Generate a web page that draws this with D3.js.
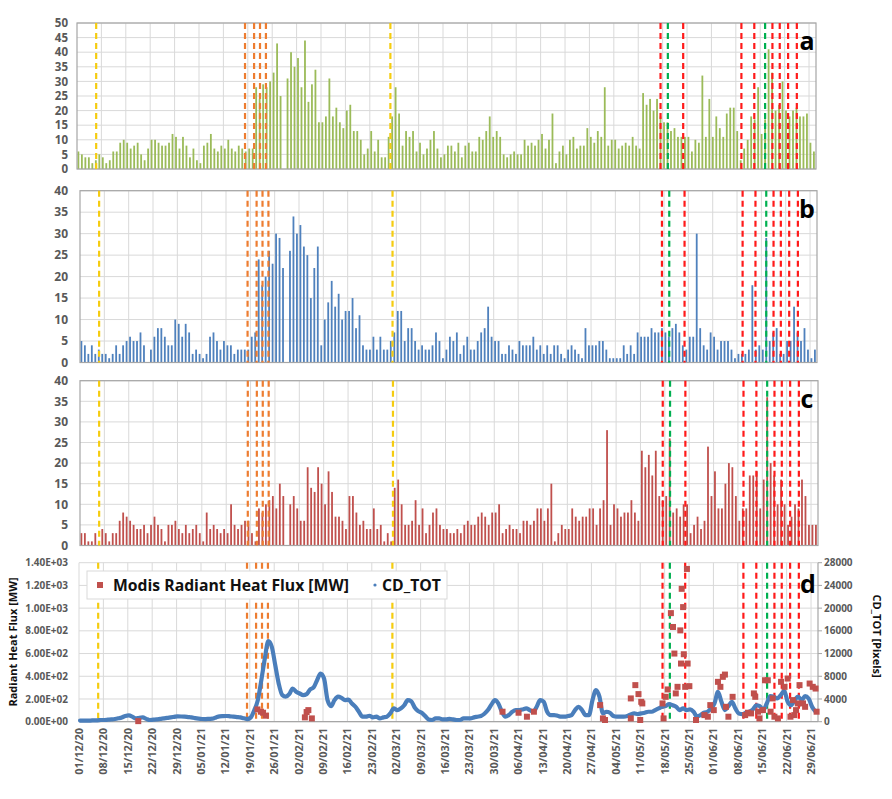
<!DOCTYPE html>
<html><head><meta charset="utf-8">
<script src="https://cdn.jsdelivr.net/npm/d3@7"></script>
<style>
body{margin:0;background:#fff}
svg{display:block}
text{font-family:"Open Sans",sans-serif}
</style>
</head><body>
<svg id="chart" width="892" height="799"></svg>
<script>
// ---------------- DATA ----------------
const startDate = "2020-12-01";
const endDate = "2021-07-01";

const weekLabels = ["01/12/20","08/12/20","15/12/20","22/12/20","29/12/20","05/01/21","12/01/21","19/01/21",
  "26/01/21","02/02/21","09/02/21","16/02/21","23/02/21","02/03/21","09/03/21","16/03/21","23/03/21",
  "30/03/21","06/04/21","13/04/21","20/04/21","27/04/21","04/05/21","11/05/21","18/05/21","25/05/21",
  "01/06/21","08/06/21","15/06/21","22/06/21","29/06/21"];

// panel a (daily, from 01/12/20)
const valuesA = [6,5,4,4,2,3,5,4,2,3, 6,6,9,10,9,7,8,9,5,3, 7,10,10,9,8,8,9,12,11,7,
  11,8,4,7,3,2,8,9,12,7, 6,8,7,10,7,6,8,7,6,7, 7,28,24,29,28,30,33,43,25,0,
  31,40,35,38,28,44,23,29,34,16, 16,18,31,18,21,16,14,20,22,13, 13,10,5,7,13,6,10,4,4,11,
  18,28,19,8,13,11,13,6,9,5, 7,10,13,7,4,5,8,
  8,6,9,4,8,9,6,6,11,10, 13,18,11,13,11,5,4,5,6,5, 5,10,8,9,8,10,12,7,10,19,
  2,6,8,5,10,11,7,8,8,14, 11,9,13,11,28,8,10,10,7,8, 9,8,11,8,7,26,22,24,20,24,
  18,16,16,13,14,11,11,11,11,6, 10,9,32,11,24,11,18,14,11,19, 21,21,13,3,7,10,18,17,28,12,
  17,41,33,20,22,30,20,18,20,21, 18,18,19,9,6];

// panel b
const valuesB = [5,4,2,4,2,3,2,2,1,2, 4,2,4,5,6,5,5,7,4,0, 3,6,8,8,6,4,4,10,9,6,
  9,7,2,3,2,1,2,6,7,5, 3,5,4,4,2,3,3,3,3,6, 7,24,18,20,26,23,30,29,22,0,
  26,34,30,32,27,25,15,22,27,4, 10,14,19,13,16,10,12,12,15,8, 11,4,3,3,6,3,6,3,3,5,
  7,12,12,5,8,8,5,3,4,3, 3,4,7,5,1,3,6,
  5,7,2,4,6,3,3,5,7,8, 13,6,5,5,2,2,4,3,2,5, 4,4,4,6,3,4,2,4,2,4,
  4,2,1,3,4,3,2,1,8,4, 4,4,5,5,3,1,1,1,1,4, 2,4,2,7,6,6,6,8,7,7,
  8,7,6,8,9,7,4,3,6,6, 30,8,4,3,7,6,3,5,5,5, 3,1,2,2,2,3,18,3,4,3,
  29,5,7,8,2,2,5,5,13,7, 5,8,3,1,3];

// panel c
const valuesC = [3,3,1,1,3,1,4,3,1,3, 3,6,8,7,6,5,4,4,5,3, 5,7,5,4,1,5,5,6,4,3,
  5,3,4,5,3,1,8,4,5,4, 3,4,3,10,5,4,5,6,6,3, 1,9,8,10,11,12,9,15,12,0,
  10,12,9,6,6,19,14,13,19,15, 10,18,13,7,7,6,4,12,12,8, 5,6,4,4,9,4,5,1,3,1,
  14,16,10,5,5,6,11,5,9,3, 5,8,9,5,4,4, 3,
  3,4,3,5,6,5,5,7,8,7, 5,8,8,10,3,4,5,4,4,3, 6,6,5,6,9,9,6,9,15,1,
  3,5,4,4,9,7,6,7,7,9, 9,5,9,11,28,5,10,9,7,8, 8,11,8,6,23,19,22,17,23,12,
  11,12,26,8,9,7,10,10,3,5, 7,4,6,24,12,18,9,9,15,20, 19,12,6,9,9,17,17,18,9,16,
  36,20,17,10,16,10,5,7,10,9, 16,12,5,5,5];

// panel d : CD_TOT [Pixels] daily
const cdTot = [200,200,200,200,250,250,300,300,350,400, 470,600,760,1000,1100,900,580,700,760,500,
  300,350,400,500,580,680,760,850,940,920, 880,820,760,620,530,480,470,500,530,750,
  940,980,1000,950,880,820,760,600,470,760, 2050,3800,7300,11100,14200,13200,9950,6700,4700,4400,
  4850,5850,5260,4970,4680,4850,5670,6030,7300,8480, 7600,3800,2750,3800,4400,4200,3800,3900,3200,2630,
  1750,880,880,1050,760,880,580,760,880,1460, 2340,2050,2340,2900,3800,3600,2500,1870,1580,1000,
  400,300,580,580,400,400,500,400,300,300, 580,580,580,760,880,1000,1400,2050,3000,3800,
  3200,1750,880,1170,1750,2050,2050,2160,2340,2050, 1750,2630,3800,3500,1750,1170,1170,1050,880,880,
  1000,1170,2050,2630,2050,1170,1170,3800,5560,4400, 1460,1750,1580,1000,880,880,880,1000,1290,1460,
  1350,1460,1580,1750,1750,2050,2340,2630,2750,3100, 2900,2630,2050,2340,2050,2160,1750,880,1170,1580,
  1750,2340,3200,5260,3500,2050,2750,3500,2340,1460, 1350,1580,1750,2160,2900,2750,2050,3200,4500,4400,
  4100,4680,5440,3500,2900,3800,4400,3800,4500,4100, 2630,1750];

// panel d : Modis Radiant Heat Flux [MW] (day offset from 01/12/20, value)
const modisDay = [17,51.2,52.2,52.8,53.6,64.8,65.3,65.8,66.8,121.5,126.1,128.5,130.5,149.5,150.3,150.9,
  158.3,158.3,159.6,160.5,161.3,161.6,161,167.4,167.7,168.3,168.9,169.8,170.4,170.8,171.2,171.7,172.5,
  172.7,172.9,173.3,173.5,173.9,174.4,174.6,175.1,177,179.4,180.4,181.1,182.1,183.3,184.0,184.7,185.3,
  185.6,186.3,187.5,191.1,191.9,192.8,193.6,194.0,194.8,195.2,196.2,196.8,197.6,198.4,199.0,199.5,
  200.5,201.4,202.4,203.3,204.1,204.8,205.2,205.7,206.2,206.7,207.7,208.3,209.6,210.5,211.3,211.6];
const modisMW = [5,108,88,79,53,38,85,102,29,88,79,44,88,146,29,15,205,29,322,243,175,161,15,161,29,
  219,284,956,834,600,249,307,804,512,1170,1009,594,307,1345,512,313,15,58,44,146,102,351,307,395,415,
  131,44,219,58,79,73,249,219,88,29,102,365,365,88,205,44,29,351,307,380,44,190,58,102,161,322,161,
  131,336,307,292,88];

// event lines (day offsets from 01/12/20)
const yellowDays = [5.5, 89.9];
const orangeDays = [48.2, 50.8, 52.5, 54.2];
const redDays = [167.4, 173.9, 190.6, 194.3, 199.5, 201.6, 204.0, 206.5];
const greenDays = [169.5, 197.4];

// tick labels
const ticksA = [0,5,10,15,20,25,30,35,40,45,50];
const ticksBC = [0,5,10,15,20,25,30,35,40];
const ticksDLeft = [0,200,400,600,800,1000,1200,1400];
const ticksDLeftLabels = ["0.00E+00","2.00E+02","4.00E+02","6.00E+02","8.00E+02","1.00E+03","1.20E+03","1.40E+03"];
const ticksDRight = [0,4000,8000,12000,16000,20000,24000,28000];

// ---------------- DRAW ----------------
const svg = d3.select("#chart");
const parse = d3.utcParse("%Y-%m-%d");
const wparse = d3.utcParse("%d/%m/%y");
const t0 = parse(startDate), t1 = parse(endDate);
const dayDate = d => new Date(t0.getTime() + d * 864e5);

const GRID = "#d9d9d9", AXIS = "#a6a6a6", LBL = "#595959";
const eventSets = [
  {days: yellowDays, color: "#f5cc10"},
  {days: orangeDays, color: "#ed7d31"},
  {days: redDays, color: "#ff1a1a"},
  {days: greenDays, color: "#00b050"}
];

function drawFrame(g, x, y, top, bottom, x0, x1, ticks) {
  g.append("g").selectAll("line").data(ticks).join("line")
    .attr("x1", x0).attr("x2", x1).attr("y1", d => y(d)).attr("y2", d => y(d))
    .attr("stroke", GRID).attr("stroke-width", 1);
  g.append("g").selectAll("line").data(weekLabels.slice(1)).join("line")
    .attr("x1", d => x(wparse(d))).attr("x2", d => x(wparse(d)))
    .attr("y1", top).attr("y2", bottom)
    .attr("stroke", GRID).attr("stroke-width", 1);
}
function drawEvents(g, x, top, bottom) {
  eventSets.forEach(s => {
    g.append("g").selectAll("line").data(s.days).join("line")
      .attr("x1", d => x(dayDate(d))).attr("x2", d => x(dayDate(d)))
      .attr("y1", top).attr("y2", bottom)
      .attr("stroke", s.color).attr("stroke-width", 2.2)
      .attr("stroke-dasharray", "6,4");
  });
}
function yLabels(g, y, ticks, labels, xPos, anchor, size) {
  g.append("g").selectAll("text").data(ticks).join("text")
    .attr("x", xPos).attr("y", d => y(d)).attr("dy", "0.36em")
    .attr("text-anchor", anchor).attr("fill", LBL)
    .attr("font-size", size).attr("font-weight", "bold")
    .text((d, i) => labels ? labels[i] : d);
}

const panels = [
  {label: "a", values: valuesA, ticks: ticksA, max: 50, top: 23, bottom: 169, x0: 77, x1: 816, color: "#9bbb59", ly: 50, fs: 11.5},
  {label: "b", values: valuesB, ticks: ticksBC, max: 40, top: 190.7, bottom: 362.5, x0: 80, x1: 817, color: "#4f81bd", ly: 218, fs: 12},
  {label: "c", values: valuesC, ticks: ticksBC, max: 40, top: 380.7, bottom: 545.5, x0: 80, x1: 818, color: "#c0504d", ly: 408, fs: 12}
];

panels.forEach(p => {
  const g = svg.append("g");
  const x = d3.scaleUtc().domain([t0, t1]).range([p.x0, p.x1]);
  const y = d3.scaleLinear().domain([0, p.max]).range([p.bottom, p.top]);
  drawFrame(g, x, y, p.top, p.bottom, p.x0, p.x1, p.ticks);
  const bw = 1.8;
  g.append("g").selectAll("rect").data(p.values).join("rect")
    .attr("x", (d, i) => x(dayDate(i + 0.4)) - bw / 2)
    .attr("y", d => y(d))
    .attr("width", bw)
    .attr("height", d => p.bottom - y(d))
    .attr("fill", p.color);
  g.append("rect").attr("x", p.x0).attr("y", p.top)
    .attr("width", p.x1 - p.x0).attr("height", p.bottom - p.top)
    .attr("fill", "none").attr("stroke", AXIS).attr("stroke-width", 1.2);
  drawEvents(g, x, p.top, p.bottom);
  yLabels(g, y, p.ticks, null, 68, "end", p.fs);
  g.append("text").attr("x", 807).attr("y", p.ly).attr("text-anchor", "middle")
    .attr("font-size", 25).attr("font-weight", "bold").attr("fill", "#000").text(p.label);
});

// ---- panel d ----
{
  const top = 562.7, bottom = 721.7, x0 = 79, x1 = 818;
  const g = svg.append("g");
  const x = d3.scaleUtc().domain([t0, t1]).range([x0, x1]);
  const yL = d3.scaleLinear().domain([0, 1400]).range([bottom, top]);
  const yR = d3.scaleLinear().domain([0, 28000]).range([bottom, top]);
  drawFrame(g, x, yL, top, bottom, x0, x1, ticksDLeft);
  g.append("line").attr("x1", x0).attr("x2", x1).attr("y1", bottom).attr("y2", bottom)
    .attr("stroke", AXIS).attr("stroke-width", 1.2);
  g.append("line").attr("x1", x1).attr("x2", x1).attr("y1", top).attr("y2", bottom)
    .attr("stroke", AXIS).attr("stroke-width", 1.2);
  g.append("line").attr("x1", x0).attr("x2", x0).attr("y1", top).attr("y2", bottom)
    .attr("stroke", GRID).attr("stroke-width", 1);
  g.append("g").selectAll("line").data(ticksDRight).join("line")
    .attr("x1", x1).attr("x2", x1 + 4).attr("y1", d => yR(d)).attr("y2", d => yR(d))
    .attr("stroke", AXIS);

  drawEvents(g, x, top, bottom);

  const line = d3.line()
    .x((d, i) => x(dayDate(i + 0.3)))
    .y(d => yR(d))
    .curve(d3.curveMonotoneX);
  g.append("path").datum(cdTot).attr("d", line)
    .attr("fill", "none").attr("stroke", "#4a7ebb").attr("stroke-width", 4.2)
    .attr("stroke-linejoin", "round").attr("stroke-linecap", "round");

  const sq = 6;
  g.append("g").selectAll("rect").data(modisDay).join("rect")
    .attr("x", d => x(dayDate(d)) - sq / 2)
    .attr("y", (d, i) => yL(modisMW[i]) - sq / 2)
    .attr("width", sq).attr("height", sq)
    .attr("fill", "#c0504d");

  yLabels(g, yL, ticksDLeft, ticksDLeftLabels, 68, "end", 10);
  yLabels(g, yR, ticksDRight, null, 824, "start", 10);

  // legend
  const lg = g.append("g");
  lg.append("rect").attr("x", 87).attr("y", 571).attr("width", 360).attr("height", 28)
    .attr("fill", "#fff").attr("stroke", GRID);
  lg.append("rect").attr("x", 97).attr("y", 582).attr("width", 6).attr("height", 6).attr("fill", "#c0504d");
  const t1txt = lg.append("text").attr("x", 113).attr("y", 591).attr("font-size", 17)
    .attr("font-weight", "bold").attr("fill", "#111").text("Modis Radiant Heat Flux [MW]");
  const w = t1txt.node().getComputedTextLength();
  const fs = 17 * 236 / w;
  t1txt.attr("font-size", fs);
  lg.append("circle").attr("cx", 375).attr("cy", 585).attr("r", 1.6).attr("fill", "#4a7ebb");
  lg.append("text").attr("x", 382).attr("y", 591).attr("font-size", fs)
    .attr("font-weight", "bold").attr("fill", "#111").text("CD_TOT");

  g.append("text").attr("x", 808).attr("y", 593).attr("text-anchor", "middle")
    .attr("font-size", 25).attr("font-weight", "bold").attr("fill", "#000").text("d");

  // x labels
  g.append("g").selectAll("text").data(weekLabels).join("text")
    .attr("transform", d => `translate(${x(wparse(d)) + 4},728) rotate(-90)`)
    .attr("text-anchor", "end").attr("fill", LBL)
    .attr("font-size", 11).attr("font-weight", "bold").text(d => d);

  // axis titles
  svg.append("text").attr("transform", "translate(17,642) rotate(-90)")
    .attr("text-anchor", "middle").attr("font-size", 11).attr("font-weight", "bold")
    .attr("fill", "#111").text("Radiant Heat Flux [MW]");
  svg.append("text").attr("transform", "translate(873,636) rotate(90)")
    .attr("text-anchor", "middle").attr("font-size", 11).attr("font-weight", "bold")
    .attr("fill", "#111").text("CD_TOT [Pixels]");
}
</script>
</body></html>
